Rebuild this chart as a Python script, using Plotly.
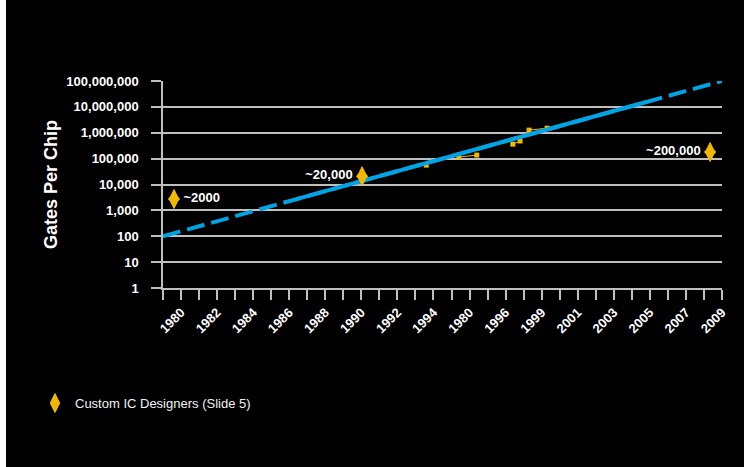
import plotly.graph_objects as go

# ---- data ----
tick_labels = ["1980", "1982", "1984", "1986", "1988", "1990", "1992", "1994",
               "1980", "1996", "1999", "2001", "2003", "2005", "2007", "2009"]
n_ticks = 32  # category slots on the axis (labels on every other slot)

y_tick_vals = [1, 10, 100, 1000, 10000, 100000, 1000000, 10000000, 100000000]
y_tick_text = ["1", "10", "100", "1,000", "10,000", "100,000", "1,000,000",
               "10,000,000", "100,000,000"]

trend_x = [0, 31]
trend_y = [100, 100000000]

actual_x = [7.5, 26.8]
actual_y = [2830, 15400000]

small_x = [14.6, None, 16.4, 17.4, None, 19.4, 19.8, None, 20.3, 21.3]
small_y = [56000, None, 115000, 137000, None, 363000, 480000, None, 1260000, 1500000]

designer_x = [0.61, 11.04, 30.34]
designer_y = [2750, 21000, 180000]
designer_text = ["~2000", "~20,000", "~200,000"]
designer_name = "Custom IC Designers (Slide 5)"

# ---- styling ----
FONT = "Arial, 'Liberation Sans', sans-serif"
BLUE = "#00A3E4"
GOLD = "#F2B800"
GRID = "#BFBFBF"

tickvals = list(range(n_ticks))
ticktext = [""] * n_ticks
for i, lab in enumerate(tick_labels):
    ticktext[2 * i + 1] = lab

fig = go.Figure()

fig.add_trace(go.Scatter(
    x=small_x, y=small_y, mode="lines+markers", showlegend=False,
    line=dict(color=GOLD, width=1),
    marker=dict(symbol="square", size=5, color=GOLD),
    hoverinfo="skip", connectgaps=False))

fig.add_trace(go.Scatter(
    x=trend_x, y=trend_y, mode="lines", showlegend=False,
    line=dict(color=BLUE, width=4, dash="18px,7px"), hoverinfo="skip"))

fig.add_trace(go.Scatter(
    x=actual_x, y=actual_y, mode="lines", showlegend=False,
    line=dict(color=BLUE, width=4), hoverinfo="skip"))

# wider body of the diamonds (same points, no legend entry)
fig.add_trace(go.Scatter(
    x=designer_x, y=designer_y, mode="markers", showlegend=False,
    legendgroup="designers",
    marker=dict(symbol="diamond", size=9.5, color=GOLD, line=dict(width=0)),
    hoverinfo="skip", cliponaxis=False))

fig.add_trace(go.Scatter(
    x=designer_x, y=designer_y, mode="markers+text", name=designer_name,
    legendgroup="designers",
    text=designer_text,
    textposition=["middle right", "middle left", "middle left"],
    textfont=dict(family=FONT, size=13, color="white", weight="bold"),
    marker=dict(symbol="diamond-tall", size=13.5, color=GOLD,
                line=dict(color=GOLD, width=1)),
    cliponaxis=False))

fig.update_layout(
    width=744, height=467,
    paper_bgcolor="black", plot_bgcolor="black",
    margin=dict(l=163, r=22, t=81, b=179),
    font=dict(family=FONT, color="white"),
    showlegend=True,
    legend=dict(x=-0.229, y=-0.556, xanchor="left", yanchor="middle",
                bgcolor="rgba(0,0,0,0)",
                font=dict(family=FONT, size=13, color="#F2F2F2")),
    xaxis=dict(
        range=[0, 31], tickmode="array", tickvals=tickvals, ticktext=ticktext,
        tickangle=-45, ticks="outside", ticklen=10, tickwidth=1.5,
        tickcolor=GRID, showgrid=False, zeroline=False,
        showline=True, linecolor=GRID, linewidth=1.5,
        tickfont=dict(family=FONT, size=13, color="white", weight="bold")),
    yaxis=dict(
        type="log", range=[0, 8], tickmode="array", tickvals=y_tick_vals,
        ticktext=y_tick_text, ticks="outside", ticklen=10, tickwidth=1.5,
        tickcolor=GRID, showgrid=True, gridcolor=GRID, gridwidth=1.5,
        zeroline=False, showline=True, linecolor=GRID, linewidth=1.5,
        ticklabelstandoff=10,
        tickfont=dict(family=FONT, size=13, color="white", weight="bold"),
        title=dict(text="Gates Per Chip", standoff=4,
                   font=dict(family=FONT, size=18, color="white", weight="bold"))),
    shapes=[dict(type="rect", xref="paper", yref="paper",
                 x0=-163 / 559, x1=-157 / 559, y0=-179 / 207, y1=81 / 207 + 1,
                 fillcolor="white", line=dict(width=0), layer="above")],
)

fig.write_html("out.html",
               config={"displayModeBar": False},
               post_script="document.body.style.margin='0';"
                           "document.body.style.padding='0';")
